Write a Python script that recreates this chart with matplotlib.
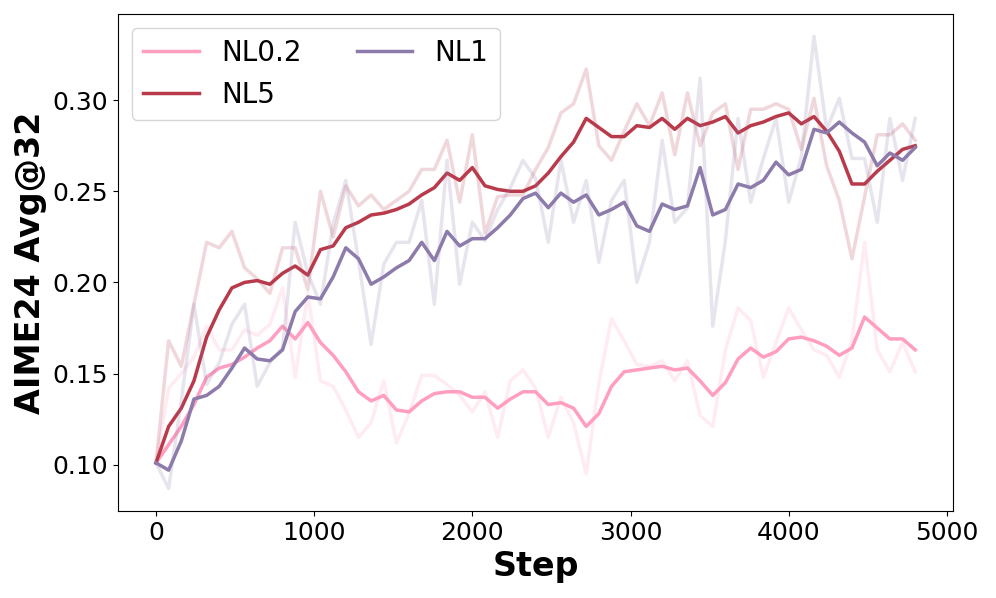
import matplotlib
matplotlib.use('Agg')
import matplotlib.pyplot as plt
import numpy as np

steps = np.arange(0, 4801, 80)

# raw (faint) curves
nl02_raw = [0.101, 0.142, 0.150, 0.159, 0.176, 0.163, 0.163, 0.174, 0.171, 0.177,
            0.197, 0.148, 0.194, 0.146, 0.143, 0.130, 0.115, 0.123, 0.146, 0.112,
            0.128, 0.149, 0.149, 0.144, 0.138, 0.129, 0.140, 0.115, 0.146, 0.152,
            0.142, 0.115, 0.137, 0.123, 0.095, 0.145, 0.180, 0.168, 0.155, 0.154,
            0.157, 0.146, 0.157, 0.127, 0.121, 0.163, 0.186, 0.179, 0.148, 0.167,
            0.186, 0.174, 0.163, 0.160, 0.148, 0.168, 0.222, 0.163, 0.151, 0.167,
            0.151]
nl5_raw = [0.101, 0.168, 0.154, 0.188, 0.222, 0.219, 0.228, 0.208, 0.202, 0.194,
           0.219, 0.219, 0.196, 0.250, 0.225, 0.253, 0.242, 0.248, 0.240, 0.245,
           0.250, 0.262, 0.262, 0.278, 0.244, 0.281, 0.227, 0.247, 0.248, 0.248,
           0.262, 0.274, 0.293, 0.298, 0.317, 0.275, 0.267, 0.283, 0.298, 0.286,
           0.304, 0.270, 0.304, 0.275, 0.293, 0.298, 0.262, 0.295, 0.295, 0.298,
           0.295, 0.273, 0.301, 0.264, 0.245, 0.213, 0.247, 0.281, 0.281, 0.287,
           0.278]
nl1_raw = [0.101, 0.087, 0.135, 0.188, 0.144, 0.156, 0.177, 0.188, 0.143, 0.156,
           0.164, 0.233, 0.205, 0.188, 0.232, 0.256, 0.212, 0.166, 0.210, 0.222,
           0.222, 0.245, 0.188, 0.267, 0.199, 0.233, 0.223, 0.240, 0.252, 0.267,
           0.257, 0.222, 0.267, 0.233, 0.256, 0.211, 0.245, 0.256, 0.200, 0.222,
           0.278, 0.233, 0.241, 0.312, 0.176, 0.223, 0.290, 0.244, 0.268, 0.290,
           0.244, 0.269, 0.335, 0.284, 0.301, 0.268, 0.268, 0.233, 0.290, 0.256,
           0.290]

# smoothed curves
nl02 = [0.101, 0.111, 0.121, 0.133, 0.148, 0.153, 0.155, 0.159, 0.164, 0.168,
        0.176, 0.169, 0.178, 0.167, 0.160, 0.151, 0.140, 0.135, 0.138, 0.130,
        0.129, 0.135, 0.139, 0.140, 0.140, 0.137, 0.137, 0.131, 0.136, 0.140,
        0.140, 0.133, 0.134, 0.131, 0.121, 0.128, 0.143, 0.151, 0.152, 0.153,
        0.154, 0.152, 0.153, 0.146, 0.138, 0.145, 0.158, 0.164, 0.159, 0.162,
        0.169, 0.170, 0.168, 0.165, 0.160, 0.164, 0.181, 0.175, 0.169, 0.169,
        0.163]
nl5 = [0.101, 0.121, 0.131, 0.146, 0.170, 0.185, 0.197, 0.200, 0.201, 0.199,
       0.205, 0.209, 0.204, 0.218, 0.220, 0.230, 0.233, 0.237, 0.238, 0.240,
       0.243, 0.248, 0.252, 0.260, 0.256, 0.263, 0.253, 0.251, 0.250, 0.250,
       0.253, 0.260, 0.269, 0.277, 0.290, 0.285, 0.280, 0.280, 0.286, 0.285,
       0.290, 0.284, 0.290, 0.286, 0.288, 0.291, 0.282, 0.286, 0.288, 0.291,
       0.293, 0.287, 0.291, 0.283, 0.272, 0.254, 0.254, 0.261, 0.267, 0.273,
       0.275]
nl1 = [0.101, 0.097, 0.113, 0.136, 0.138, 0.143, 0.153, 0.164, 0.158, 0.157,
       0.163, 0.184, 0.192, 0.191, 0.203, 0.219, 0.213, 0.199, 0.203, 0.208,
       0.212, 0.222, 0.212, 0.228, 0.220, 0.224, 0.224, 0.230, 0.237, 0.246,
       0.249, 0.241, 0.249, 0.244, 0.248, 0.237, 0.240, 0.244, 0.231, 0.228,
       0.243, 0.240, 0.242, 0.263, 0.237, 0.240, 0.254, 0.252, 0.256, 0.266,
       0.259, 0.262, 0.284, 0.282, 0.288, 0.282, 0.277, 0.264, 0.271, 0.267,
       0.274]

names = ['NL0.2', 'NL5', 'NL1']
colors = ['#ff9ec0', '#b83a4b', '#8c7bab']
raws = [nl02_raw, nl5_raw, nl1_raw]
smooths = [nl02, nl5, nl1]

fig, ax = plt.subplots(figsize=(9.96, 5.98), dpi=100)
for name, c, r, s in zip(names, colors, raws, smooths):
    ax.plot(steps, r, color=c, alpha=0.2, linewidth=2.5)   # raw
    ax.plot(steps, s, color=c, linewidth=2.5, label=name)  # smoothed

ax.set_xlabel('Step', fontsize=24, fontweight='bold')
ax.set_ylabel('AIME24 Avg@32', fontsize=24, fontweight='bold')
ax.tick_params(labelsize=18)
ax.set_yticks([0.10, 0.15, 0.20, 0.25, 0.30])
ax.legend(loc='upper left', ncol=2, fontsize=20)

plt.subplots_adjust(left=0.1185, right=0.957, top=0.977, bottom=0.1455)
plt.savefig('out.png', dpi=100)
